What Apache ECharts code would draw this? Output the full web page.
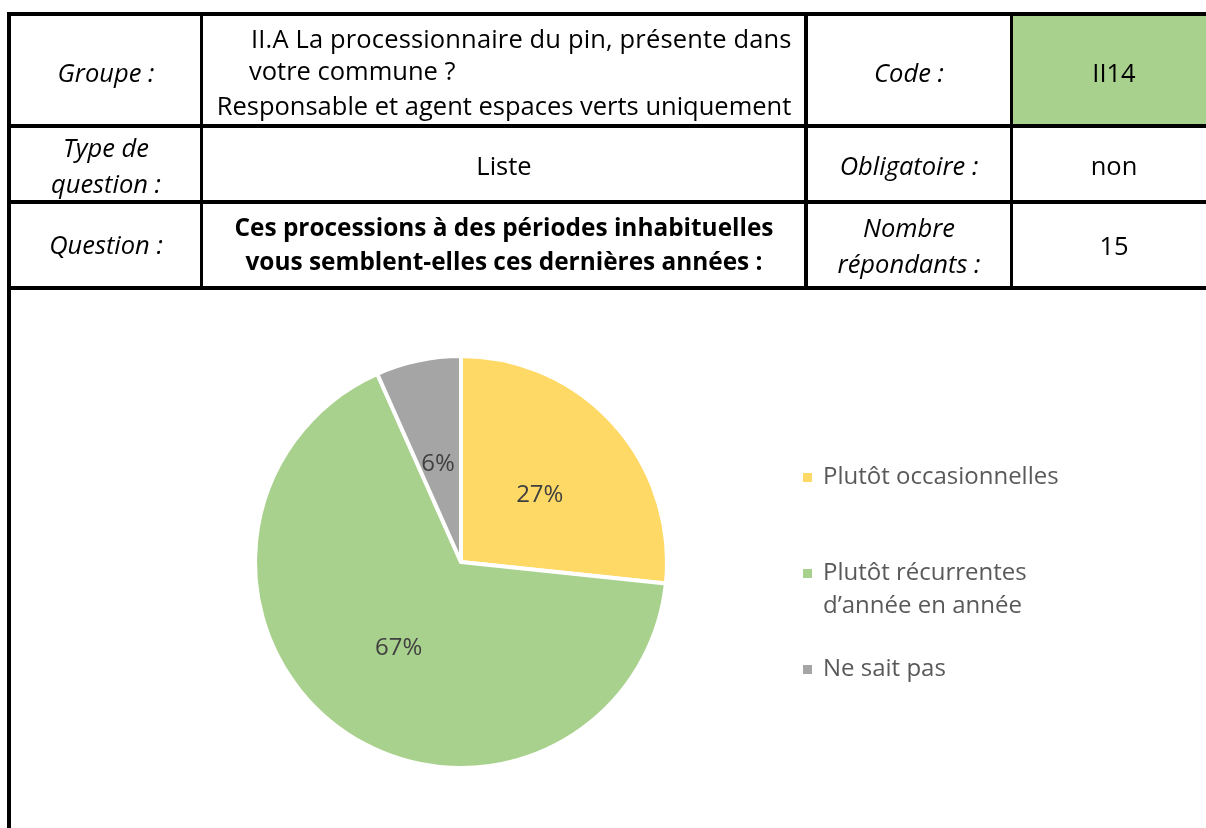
<!DOCTYPE html>
<html>
<head>
<meta charset="utf-8">
<title>II14 - processions</title>
<script src="https://cdn.jsdelivr.net/npm/echarts@6/dist/echarts.min.js"></script>
<style>
  html, body { margin: 0; padding: 0; background: #fff; }
  #page { position: relative; width: 1206px; height: 828px; overflow: hidden; font-family: 'Open Sans', sans-serif; color: #000; }
  #chart { position: absolute; left: 0; top: 0; width: 1206px; height: 828px; }
  .ln { position: absolute; background: #000; z-index: 2; }
  .t { position: absolute; font-size: 25.5px; line-height: 30px; white-space: nowrap; z-index: 3; }
  .c { transform: translateX(-50%); }
  .i { font-style: italic; }
  .b { font-weight: bold; font-size: 24.4px; }
</style>
</head>
<body>
<div id="page">
  <div id="chart"></div>

  <!-- code cell fill -->
  <div style="position:absolute;left:1013px;top:16px;width:193px;height:108px;background:#A9D18E;z-index:1"></div>

  <!-- table grid -->
  <div class="ln" style="left:7px;top:12px;width:1199px;height:4px"></div>
  <div class="ln" style="left:7px;top:124px;width:1199px;height:4px"></div>
  <div class="ln" style="left:7px;top:200px;width:1199px;height:4px"></div>
  <div class="ln" style="left:7px;top:286px;width:1199px;height:4px"></div>
  <div class="ln" style="left:7px;top:12px;width:4px;height:816px"></div>
  <div class="ln" style="left:200px;top:12px;width:3px;height:278px"></div>
  <div class="ln" style="left:804px;top:12px;width:4px;height:278px"></div>
  <div class="ln" style="left:1010px;top:12px;width:3px;height:278px"></div>

  <!-- row 1 -->
  <div class="t c i" style="left:106px;top:57px">Groupe :</div>
  <div class="t" style="left:251px;top:23px;letter-spacing:0.15px">II.A La processionnaire du pin, présente dans</div>
  <div class="t" style="left:249px;top:55px">votre commune ?</div>
  <div class="t c" style="left:504px;top:90px">Responsable et agent espaces verts uniquement</div>
  <div class="t c i" style="left:909px;top:57px">Code :</div>
  <div class="t c" style="left:1114px;top:57px">II14</div>

  <!-- row 2 -->
  <div class="t c i" style="left:106px;top:132px">Type de</div>
  <div class="t c i" style="left:106px;top:168px">question :</div>
  <div class="t c" style="left:504px;top:150px">Liste</div>
  <div class="t c i" style="left:909px;top:150px">Obligatoire :</div>
  <div class="t c" style="left:1114px;top:150px">non</div>

  <!-- row 3 -->
  <div class="t c i" style="left:106px;top:229px">Question :</div>
  <div class="t c b" style="left:504px;top:212px">Ces processions à des périodes inhabituelles</div>
  <div class="t c b" style="left:504px;top:246px">vous semblent-elles ces dernières années :</div>
  <div class="t c i" style="left:909px;top:212px">Nombre</div>
  <div class="t c i" style="left:909px;top:248px">répondants :</div>
  <div class="t c" style="left:1114px;top:230px">15</div>
</div>

<script>
  // answers (15 respondents)
  const categories = ['Plutôt occasionnelles', 'Plutôt récurrentes\nd’année en année', 'Ne sait pas']
  const counts = [4, 10, 1]
  const pctLabels = ['27%', '67%', '6%']
  const colors = ['#FFD966', '#A9D18E', '#A5A5A5']
  // small label nudges, excel puts them a bit lower
  const labelNudge = [[0, 4], [0, 0], [-1, 6]]

  const chart = echarts.init(document.getElementById('chart'))
  chart.setOption({
    animation: false,
    legend: {
      orient: 'vertical',
      left: 801,
      top: 461,
      padding: 0,
      itemGap: 30,
      itemWidth: 11,
      itemHeight: 11,
      icon: 'rect',
      selectedMode: false,
      /* empty first line so the icon sits on the first real line */
      formatter: name => name.indexOf('\n') > -1 ? '\n' + name : name,
      textStyle: {
        color: '#595959',
        fontSize: 24,
        fontFamily: 'Open Sans',
        lineHeight: 33,
        padding: [0, 0, 0, 5]
      },
      data: categories
    },
    series: [
      {
        type: 'pie',
        center: [461, 562],
        radius: 206,
        startAngle: 90,
        clockwise: true,
        avoidLabelOverlap: false,
        itemStyle: { borderColor: '#fff', borderWidth: 4 },
        label: {
          show: true,
          position: 'inside',
          color: '#404040',
          fontSize: 24,
          fontFamily: 'Open Sans',
          formatter: p => pctLabels[p.dataIndex]
        },
        labelLine: { show: false },
        emphasis: { disabled: true },
        data: categories.map((name, i) => ({
          name: name,
          value: counts[i],
          itemStyle: { color: colors[i] },
          label: { offset: labelNudge[i] }
        }))
      }
    ]
  })
</script>
</body>
</html>
